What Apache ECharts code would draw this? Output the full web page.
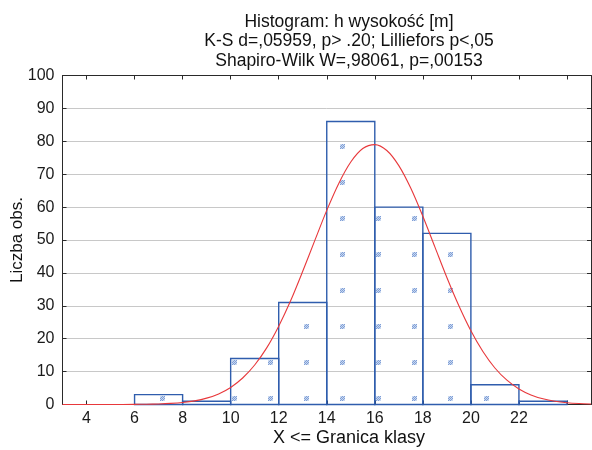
<!DOCTYPE html>
<html>
<head>
<meta charset="utf-8">
<script src="https://cdn.jsdelivr.net/npm/echarts@6/dist/echarts.min.js"></script>
<style>html,body{margin:0;padding:0;background:#fff}#c{width:592px;height:450px}</style>
</head>
<body>
<div id="c"></div>
<script>
// ---- data ----
const binStarts = [6, 8, 10, 12, 14, 16, 18, 20, 22];
const binEnds   = [8, 10, 12, 14, 16, 18, 20, 22, 24];
const counts    = [3, 1, 14, 31, 86, 60, 52, 6, 1];
const curveX = [3,4,5,6,6.5,7,7.5,8,8.5,9,9.5,10,10.5,11,11.5,12,12.5,13,13.5,14,14.5,15,15.5,16,16.5,17,17.5,18,18.5,19,19.5,20,20.5,21,21.5,22,22.5,23,23.5,24,24.5,25];
const curveY = [0,0,0.01,0.04,0.08,0.17,0.33,0.61,1.1,1.93,3.22,5.19,8.05,12.0,17.2,23.8,31.6,40.5,49.8,59.0,67.2,73.7,77.8,79.0,77.2,72.6,65.7,57.2,47.9,38.6,30.0,22.4,16.1,11.1,7.39,4.73,2.92,1.73,0.99,0.54,0.29,0.15];
const xLabelValues = [4, 6, 8, 10, 12, 14, 16, 18, 20, 22];
const xTickValues  = [4, 6, 8, 10, 12, 14, 16, 18, 20, 22, 24];
const titleLines = ['Histogram: h wysokość [m]', 'K-S d=,05959, p> .20; Lilliefors p<,05', 'Shapiro-Wilk W=,98061, p=,00153'];
const xName = 'X <= Granica klasy';
const yName = 'Liczba obs.';

// ---- hatch pattern tile ----
const tile = document.createElement('canvas');
tile.width = 36; tile.height = 36;
const tc = tile.getContext('2d');
tc.fillStyle = 'rgba(150,180,225,0.5)';
tc.fillRect(16, 0, 5, 5);
tc.fillStyle = 'rgba(110,145,210,0.8)';
for (let i = 0; i < 5; i++) {
  tc.fillRect(16 + i, 4 - i, 1, 1);
  if (i < 3) tc.fillRect(18 + i, 4 - i, 1, 1);
  if (i >= 2) tc.fillRect(14 + i, 4 - i, 1, 1);
}
const hatch = { image: tile, repeat: 'repeat' };

const FONT = 'Liberation Sans, Arial, sans-serif';
const chart = echarts.init(document.getElementById('c'), null, { renderer: 'canvas' });
const histData = binStarts.map((s, i) => [s, binEnds[i], counts[i]]);
const curveData = curveX.map((x, i) => [x, curveY[i]]);

chart.setOption({
  animation: false,
  backgroundColor: '#fff',
  grid: { left: 62.5, right: 1, top: 75.5, bottom: 45.5 },
  xAxis: [{
    type: 'value', min: 3, max: 25, position: 'bottom',
    axisLine: { show: true, onZero: false, lineStyle: { color: '#2a2a2a', width: 1 } },
    axisTick: { show: true, inside: true, length: 4, customValues: xTickValues, lineStyle: { color: '#2a2a2a' } },
    axisLabel: { customValues: xLabelValues, color: '#1a1a1a', fontFamily: FONT, fontSize: 16, margin: 6 },
    splitLine: { show: false }
  }, {
    type: 'value', min: 3, max: 25, position: 'top',
    axisLine: { show: true, onZero: false, lineStyle: { color: '#2a2a2a', width: 1 } },
    axisTick: { show: true, inside: true, length: 4, customValues: xTickValues, lineStyle: { color: '#2a2a2a' } },
    axisLabel: { show: false },
    splitLine: { show: false }
  }],
  yAxis: [{
    type: 'value', min: 0, max: 100, interval: 10, position: 'left',
    axisLine: { show: true, onZero: false, lineStyle: { color: '#2a2a2a', width: 1 } },
    axisTick: { show: true, inside: true, length: 4, lineStyle: { color: '#2a2a2a' } },
    axisLabel: { color: '#1a1a1a', fontFamily: FONT, fontSize: 16, margin: 8 },
    splitLine: { show: true, lineStyle: { color: '#c8c8c8', width: 1 } }
  }, {
    type: 'value', min: 0, max: 100, interval: 10, position: 'right',
    axisLine: { show: true, onZero: false, lineStyle: { color: '#2a2a2a', width: 1 } },
    axisTick: { show: true, inside: true, length: 4, lineStyle: { color: '#2a2a2a' } },
    axisLabel: { show: false },
    splitLine: { show: false }
  }],
  graphic: [
    ...titleLines.map((t, i) => ({
      type: 'text', x: 349, y: 22 + i * 19.5,
      style: { text: t, font: '17.5px ' + FONT, fill: '#111', textAlign: 'center', textVerticalAlign: 'middle' }
    })),
    { type: 'text', x: 349, y: 438, style: { text: xName, font: '18px ' + FONT, fill: '#111', textAlign: 'center', textVerticalAlign: 'middle' } },
    { type: 'text', x: 17, y: 240, rotation: Math.PI / 2, style: { text: yName, font: '17px ' + FONT, fill: '#111', textAlign: 'center', textVerticalAlign: 'middle' } }
  ],
  series: [{
    type: 'custom',
    xAxisIndex: 0, yAxisIndex: 0,
    data: histData,
    z: 2,
    renderItem: function (params, api) {
      const p0 = api.coord([api.value(0), api.value(2)]);
      const p1 = api.coord([api.value(1), 0]);
      return {
        type: 'rect',
        shape: { x: p0[0], y: p0[1], width: p1[0] - p0[0], height: p1[1] - p0[1] },
        style: { fill: hatch, stroke: '#2f5dad', lineWidth: 1.4 }
      };
    }
  }, {
    type: 'line',
    xAxisIndex: 0, yAxisIndex: 0,
    data: curveData,
    smooth: 0.3,
    showSymbol: false,
    z: 3,
    lineStyle: { color: '#e8383b', width: 1.1 }
  }]
});
</script>
</body>
</html>
